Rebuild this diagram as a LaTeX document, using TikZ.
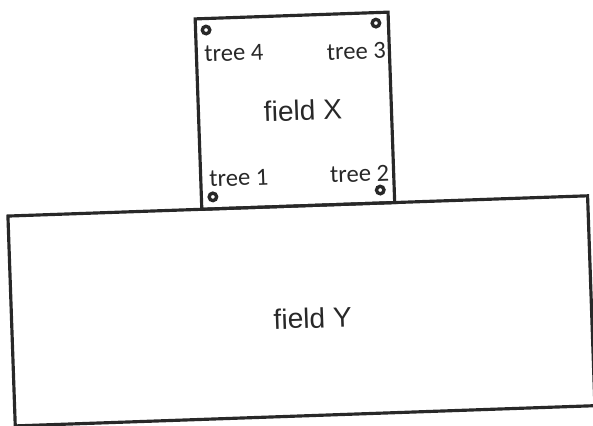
\documentclass[tikz,border=0pt]{standalone}
\usepackage{fontspec}
\usetikzlibrary{positioning}
\newfontfamily\fieldfont{Liberation Sans}
\newfontfamily\treefont{Carlito}
\definecolor{inkgray}{RGB}{40,40,40}

\begin{document}
\begin{tikzpicture}[
    x=0.02cm, y=-0.02cm,
    field/.style={draw=inkgray, line width=1.8pt},
    tree/.style={circle, draw=inkgray, line width=1.9pt, inner sep=0pt, minimum size=0.15cm},
    treelabel/.style={font=\treefont\fontsize{14}{16}\selectfont, text=inkgray, inner sep=0pt},
    fieldlabel/.style={font=\fieldfont\fontsize{16}{18}\selectfont, text=inkgray, inner sep=0pt}
]
    \useasboundingbox (0,0) rectangle (593,426);
    \begin{scope}[rotate around={2:(296,213)}, transform shape]
        % the two fields
        \draw[field] (8,206) rectangle (588,416);
        \draw[field] (202,15.5) rectangle (395,206);
        \node[fieldlabel] (fx) at (306.5,110.5) {field X};
        \node[fieldlabel] (fy) at (309,318.5) {field Y};
        % trees at the corners of field X
        \node[tree] (tree1) at (213.5,194) {};
        \node[tree] (tree2) at (381,193) {};
        \node[tree] (tree3) at (382.5,26) {};
        \node[tree] (tree4) at (212.5,27) {};
        \node[treelabel] (lab1) at (240,176) {tree 1};
        \node[treelabel] (lab2) at (361,176) {tree 2};
        \node[treelabel] (lab3) at (362,53.5) {tree 3};
        \node[treelabel] (lab4) at (239.5,51) {tree 4};
    \end{scope}
\end{tikzpicture}
\end{document}
